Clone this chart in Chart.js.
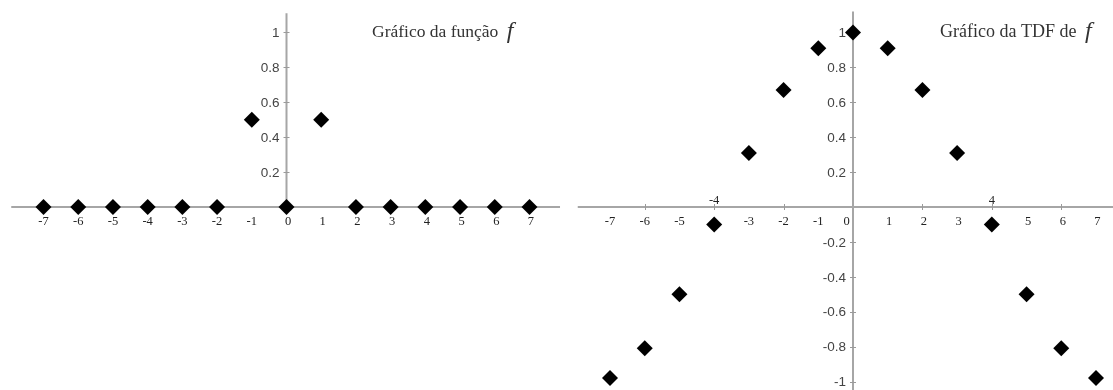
<!DOCTYPE html>
<html>
<head>
<meta charset="utf-8">
<script src="https://cdn.jsdelivr.net/npm/chart.js@4.4.1/dist/chart.umd.min.js"></script>
<style>
  html, body { margin: 0; padding: 0; background: #ffffff; }
  body { width: 1113px; height: 390px; position: relative; overflow: hidden; }
  canvas { position: absolute; top: 0; }
  #fChart { left: 0; }
  #tdfChart { left: 570px; }
</style>
</head>
<body>
<canvas id="fChart" width="565" height="390"></canvas>
<canvas id="tdfChart" width="543" height="390"></canvas>
<script>
// Sample indices n = -7 … 7
const indices = [-7, -6, -5, -4, -3, -2, -1, 0, 1, 2, 3, 4, 5, 6, 7];

// f(n): 1/2 at n = ±1, zero elsewhere
const fValues = [0, 0, 0, 0, 0, 0, 0.5, 0, 0.5, 0, 0, 0, 0, 0, 0];

// Discrete Fourier transform of f
const tdfValues = [-0.98, -0.81, -0.5, -0.1, 0.31, 0.67, 0.91, 1, 0.91, 0.67, 0.31, -0.1, -0.5, -0.81, -0.98];

// Axis tick labels
const xTickLabels = ['-7', '-6', '-5', '-4', '-3', '-2', '-1', '0', '1', '2', '3', '4', '5', '6', '7'];
const fYTicks = [0.2, 0.4, 0.6, 0.8, 1];
const tdfYTicks = [1, 0.8, 0.6, 0.4, 0.2, -0.2, -0.4, -0.6, -0.8, -1];
// labels lifted above the axis where a marker sits on them
const tdfRaisedLabels = ['-4', '4'];

const PX_PER_X = 34.71;
const PX_PER_Y = 174.5;

function points(values) {
  return indices.map((n, i) => ({ x: n, y: values[i] }));
}

const crossAxes = {
  id: 'crossAxes',
  beforeDatasetsDraw(chart, args, opts) {
    const { ctx } = chart;
    const xs = chart.scales.x, ys = chart.scales.y;
    const x0 = xs.getPixelForValue(0);
    const y0 = ys.getPixelForValue(0);
    ctx.save();
    ctx.strokeStyle = '#a6a6a6';
    ctx.lineWidth = 2;
    ctx.beginPath();
    ctx.moveTo(xs.getPixelForValue(opts.xFrom), y0);
    ctx.lineTo(xs.getPixelForValue(opts.xTo), y0);
    ctx.moveTo(x0, ys.getPixelForValue(opts.yTo));
    ctx.lineTo(x0, ys.getPixelForValue(opts.yFrom));
    ctx.stroke();

    // small tick marks
    ctx.lineWidth = 1;
    ctx.strokeStyle = '#9a9a9a';
    ctx.beginPath();
    for (let v = -6; v <= 6; v += 2) {
      if (v === 0) continue;
      const px = Math.round(xs.getPixelForValue(v)) + 0.5;
      ctx.moveTo(px, y0 - 3);
      ctx.lineTo(px, y0 + 3);
    }
    opts.yTicks.forEach(v => {
      const py = Math.round(ys.getPixelForValue(v)) + 0.5;
      ctx.moveTo(x0 - 3, py);
      ctx.lineTo(x0 + 3, py);
    });
    ctx.stroke();

    // y tick labels
    ctx.fillStyle = '#444444';
    ctx.font = '13.5px "Liberation Sans", Arial, sans-serif';
    ctx.textAlign = 'right';
    ctx.textBaseline = 'middle';
    opts.yTicks.forEach(v => {
      ctx.fillText(String(v), x0 - 7, ys.getPixelForValue(v) + 1);
    });

    // x tick labels
    ctx.fillStyle = '#222222';
    ctx.font = '12.5px "Liberation Serif", "Times New Roman", serif';
    ctx.textAlign = 'center';
    indices.forEach((n, i) => {
      const label = xTickLabels[i];
      const px = xs.getPixelForValue(n);
      if (opts.raised.includes(label)) {
        ctx.textBaseline = 'alphabetic';
        ctx.fillText(label, px, y0 - 3);
      } else {
        let shift = 0;
        if (n === 0 && opts.zeroLeft) shift = -8;
        ctx.textBaseline = 'middle';
        ctx.fillText(label, px + shift + (n < 0 ? 0 : 1.5), y0 + 15);
      }
    });
    ctx.restore();
  },
  afterDraw(chart, args, opts) {
    const { ctx } = chart;
    ctx.save();
    ctx.fillStyle = '#333333';
    ctx.textAlign = 'left';
    ctx.textBaseline = 'alphabetic';
    ctx.font = opts.titleSize + 'px "Liberation Serif", "Times New Roman", serif';
    ctx.fillText(opts.title, opts.titleX, 37);
    const w = ctx.measureText(opts.title + ' ').width;
    ctx.font = 'italic 24px "Liberation Serif", "Times New Roman", serif';
    ctx.fillText('f', opts.titleX + w + 4, 38);
    ctx.restore();
  }
};

function makeChart(id, values, x0Px, canvasW, axes) {
  return new Chart(document.getElementById(id), {
    type: 'scatter',
    data: {
      datasets: [{
        data: points(values),
        pointStyle: 'rectRot',
        pointRadius: 8,
        pointHoverRadius: 8,
        borderWidth: 0,
        backgroundColor: '#000000',
        borderColor: '#000000'
      }]
    },
    options: {
      responsive: false,
      animation: false,
      events: [],
      layout: { padding: 0, autoPadding: false },
      plugins: {
        legend: { display: false },
        tooltip: { enabled: false },
        crossAxes: axes
      },
      scales: {
        x: { type: 'linear', display: false, min: -x0Px / PX_PER_X, max: (canvasW - x0Px) / PX_PER_X },
        y: { type: 'linear', display: false, min: -(390 - 207) / PX_PER_Y, max: 207 / PX_PER_Y }
      }
    },
    plugins: [crossAxes]
  });
}

makeChart('fChart', fValues, 286.5, 565, {
  xFrom: -7.93, xTo: 7.88, yFrom: 0, yTo: 1.11,
  yTicks: fYTicks, raised: [], zeroLeft: false,
  title: 'Gráfico da função', titleX: 372, titleSize: 17.5
});

makeChart('tdfChart', tdfValues, 283, 543, {
  xFrom: -7.93, xTo: 8, yFrom: -1.1, yTo: 1.12,
  yTicks: tdfYTicks, raised: tdfRaisedLabels, zeroLeft: true,
  title: 'Gráfico da TDF de', titleX: 370, titleSize: 18
});
</script>
</body>
</html>
